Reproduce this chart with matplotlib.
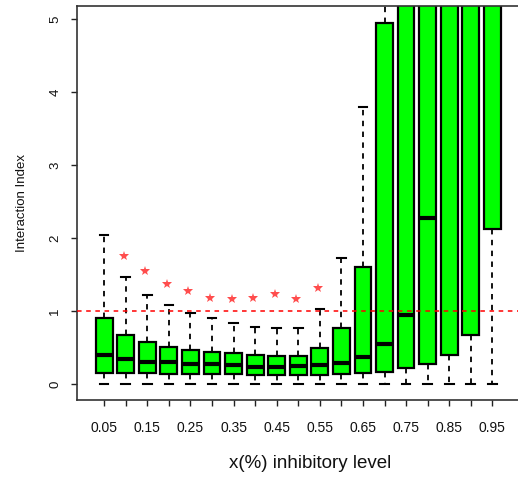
import matplotlib
matplotlib.use("Agg")
import matplotlib.pyplot as plt
from matplotlib.transforms import ScaledTranslation

plt.rcParams['font.family'] = ['Liberation Sans', 'DejaVu Sans']

# Inhibitory levels (x %)
levels = [0.05, 0.10, 0.15, 0.20, 0.25, 0.30, 0.35, 0.40, 0.45, 0.50,
          0.55, 0.60, 0.65, 0.70, 0.75, 0.80, 0.85, 0.90, 0.95]

# Box-plot summary of the interaction index per level
whisker_low = [0.0] * 19
q1 = [0.15, 0.15, 0.15, 0.13, 0.13, 0.13, 0.13, 0.12, 0.12, 0.12,
      0.12, 0.14, 0.15, 0.16, 0.22, 0.28, 0.39, 0.67, 2.12]
median = [0.39, 0.34, 0.30, 0.30, 0.27, 0.27, 0.26, 0.23, 0.23, 0.24,
          0.26, 0.29, 0.37, 0.55, 0.95, 2.28, 6.5, 8.0, 10.0]
q3 = [0.90, 0.67, 0.58, 0.51, 0.46, 0.44, 0.42, 0.40, 0.38, 0.38,
      0.49, 0.76, 1.60, 4.95, 7.0, 9.0, 12.0, 15.0, 20.0]
whisker_high = [2.04, 1.47, 1.22, 1.08, 0.97, 0.90, 0.83, 0.78, 0.77, 0.76,
                1.03, 1.72, 3.79, 9.0, 12.0, 15.0, 20.0, 25.0, 30.0]

# Significance markers (levels 0.10 .. 0.55)
star_levels = [0.10, 0.15, 0.20, 0.25, 0.30, 0.35, 0.40, 0.45, 0.50, 0.55]
star_values = [1.75, 1.55, 1.37, 1.27, 1.18, 1.16, 1.18, 1.23, 1.16, 1.31]

reference_level = 1.0

fig = plt.figure(figsize=(5.18, 4.80), dpi=100)
ax = fig.add_axes([77 / 518, 80 / 480, 442.5 / 518, 394 / 480])

positions = list(range(1, len(levels) + 1))
stats = []
for lo, a, m, b, hi in zip(whisker_low, q1, median, q3, whisker_high):
    stats.append(dict(whislo=lo, q1=a, med=m, q3=b, whishi=hi, fliers=[]))

ax.bxp(stats, positions=positions, widths=0.78, capwidths=0.4,
       patch_artist=True, showfliers=False,
       boxprops=dict(facecolor='#00ff00', edgecolor='black', linewidth=1.6),
       medianprops=dict(color='black', linewidth=3.0, solid_capstyle='butt'),
       whiskerprops=dict(color='black', linewidth=1.3, linestyle=(0, (3, 3))),
       capprops=dict(color='black', linewidth=1.5))

ax.axhline(reference_level, color='red', linewidth=1.1, linestyle=(0, (3, 3)),
           zorder=4)

star_pos = [positions[levels.index(l)] for l in star_levels]
star_shift = ScaledTranslation(-2 / 100, 0, fig.dpi_scale_trans)
ax.plot(star_pos, star_values, linestyle='none', marker='*', markersize=7,
        color='#ff4d4d', markeredgewidth=0, transform=ax.transData + star_shift,
        zorder=5)

ax.set_xlim(-0.26, 20.26)
ax.set_ylim(-0.22, 5.18)

ax.set_xticks(positions)
ax.set_xticklabels([f"{l:.2f}" if i % 2 == 0 else "" for i, l in enumerate(levels)],
                   fontsize=10)
ax.set_yticks([0, 1, 2, 3, 4, 5])
ax.set_yticklabels(["0", "1", "2", "3", "4", "5"], fontsize=9.5, rotation=90,
                   va='center')
ax.tick_params(axis='both', direction='out', length=4.3, width=1.0, color='#222222',
               labelcolor='#111111')
ax.tick_params(axis='x', pad=10.5)
ax.tick_params(axis='y', pad=7)

for side in ['left', 'bottom', 'top', 'right']:
    ax.spines[side].set_linewidth(1.2)
    ax.spines[side].set_color('#333333')

ax.set_xlabel("x(%) inhibitory level", fontsize=13.5, color='#111111', va='center')
ax.xaxis.set_label_coords((310 - 77) / 442.5, (400 - 463) / 394)
ax.set_ylabel("Interaction Index", fontsize=9.5, color='#111111', va='center')
ax.yaxis.set_label_coords((22 - 77) / 442.5, 0.5)

fig.savefig("out.png", dpi=100)
